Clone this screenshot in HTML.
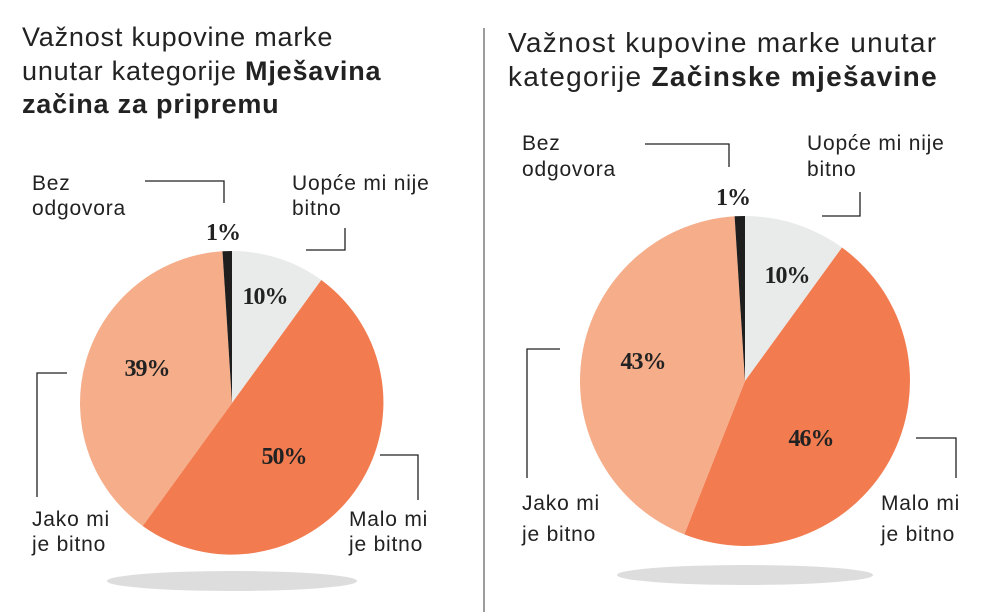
<!DOCTYPE html>
<html><head><meta charset="utf-8"><style>
html,body{margin:0;padding:0;background:#fff;width:992px;height:612px;overflow:hidden}
svg{display:block}
.t{font-family:"Liberation Sans",sans-serif;font-size:27px;fill:#222;letter-spacing:0.8px}
.t2{font-family:"Liberation Sans",sans-serif;font-size:28px;fill:#222;letter-spacing:1.3px}
.l{font-family:"Liberation Sans",sans-serif;font-size:21px;fill:#222;letter-spacing:0.8px}
.p{font-family:"Liberation Serif",serif;font-weight:bold;font-size:24px;fill:#222;text-anchor:middle;letter-spacing:-1px}
.ln{stroke:#222;stroke-width:1.3;fill:none}
</style></head><body>
<svg width="992" height="612" viewBox="0 0 992 612">
<line x1="484" y1="28" x2="484" y2="612" stroke="#666" stroke-width="1.3"/>
<text class="t" x="22" y="46">Važnost kupovine marke</text>
<text class="t" x="22" y="80">unutar kategorije <tspan font-weight="bold">Mješavina</tspan></text>
<text class="t" x="22" y="113" font-weight="bold">začina za pripremu</text>
<text class="t2" x="508" y="52">Važnost kupovine marke unutar</text>
<text class="t2" x="508" y="86">kategorije <tspan font-weight="bold">Začinske mješavine</tspan></text>

<ellipse cx="232" cy="581" rx="125" ry="10" fill="#ddd"/>
<ellipse cx="745" cy="575" rx="128" ry="10" fill="#ddd"/>

<path d="M232,403 L232,251 A152,152 0 0,1 321.3,280 Z" fill="#e8ebea"/>
<path d="M232,403 L321.3,280 A152,152 0 0,1 142.7,526 Z" fill="#f27b4f"/>
<path d="M232,403 L142.7,526 A152,152 0 0,1 222.5,251.3 Z" fill="#f5ad8a"/>
<path d="M232,403 L222.5,251.3 A152,152 0 0,1 232,251 Z" fill="#1e1e1e"/>
<path d="M745,381 L745,216 A165,165 0 0,1 842,247.5 Z" fill="#e8ebea"/>
<path d="M745,381 L842,247.5 A165,165 0 0,1 684.3,534.4 Z" fill="#f27b4f"/>
<path d="M745,381 L684.3,534.4 A165,165 0 0,1 734.6,216.3 Z" fill="#f5ad8a"/>
<path d="M745,381 L734.6,216.3 A165,165 0 0,1 745,216 Z" fill="#1e1e1e"/>

<text class="p" x="223" y="240">1%</text>
<text class="p" x="265" y="304">10%</text>
<text class="p" x="284" y="464">50%</text>
<text class="p" x="147" y="376">39%</text>
<text class="p" x="733" y="205">1%</text>
<text class="p" x="787" y="283">10%</text>
<text class="p" x="811" y="446">46%</text>
<text class="p" x="643" y="369">43%</text>

<polyline class="ln" points="145,181 224,181 224,203"/>
<polyline class="ln" points="306,250 345,250 345,228"/>
<polyline class="ln" points="67,373 37,373 37,497"/>
<polyline class="ln" points="380,455 418,455 418,500"/>
<polyline class="ln" points="645,144 729,144 729,167"/>
<polyline class="ln" points="822,216 860,216 860,192"/>
<polyline class="ln" points="560,349 527,349 527,478"/>
<polyline class="ln" points="916,438 956,438 956,478"/>

<text class="l" x="32" y="190">Bez</text>
<text class="l" x="32" y="215">odgovora</text>
<text class="l" x="292" y="190">Uopće mi nije</text>
<text class="l" x="292" y="215">bitno</text>
<text class="l" x="32" y="526">Jako mi</text>
<text class="l" x="32" y="551">je bitno</text>
<text class="l" x="349" y="526">Malo mi</text>
<text class="l" x="349" y="551">je bitno</text>
<text class="l" x="522" y="150">Bez</text>
<text class="l" x="522" y="176">odgovora</text>
<text class="l" x="807" y="150">Uopće mi nije</text>
<text class="l" x="807" y="176">bitno</text>
<text class="l" x="522" y="510">Jako mi</text>
<text class="l" x="522" y="541">je bitno</text>
<text class="l" x="881" y="510">Malo mi</text>
<text class="l" x="881" y="541">je bitno</text>
</svg>
</body></html>
